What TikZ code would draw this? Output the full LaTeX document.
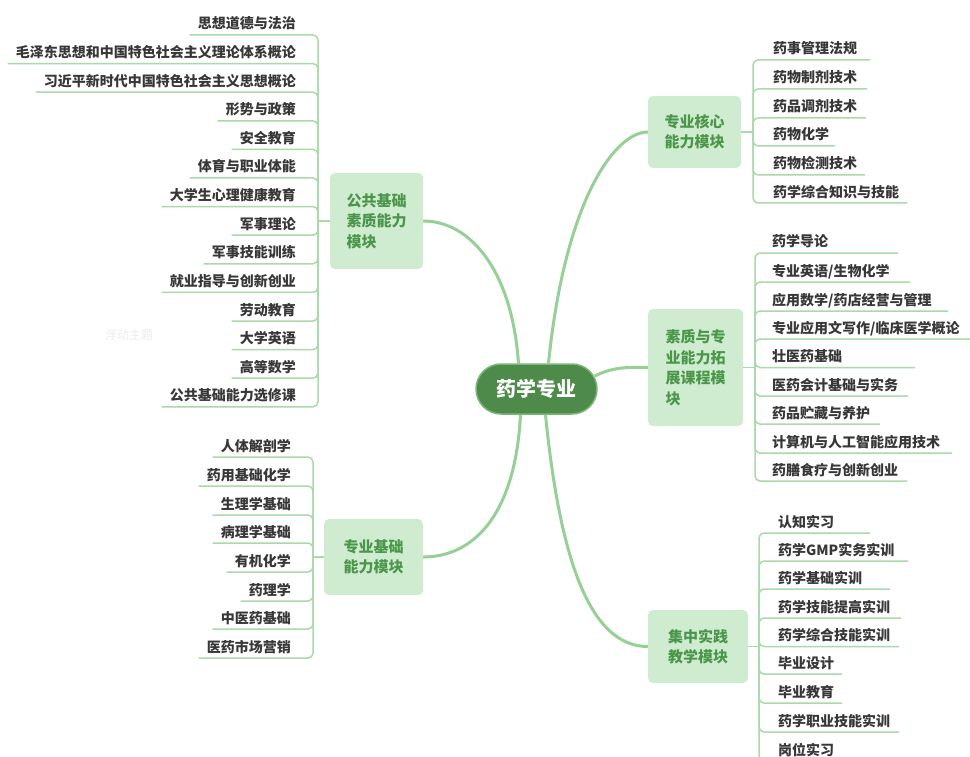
\documentclass[tikz,border=0pt]{standalone}
\usepackage{fontspec}
\newfontfamily\cjk{Noto Sans CJK SC}
\usetikzlibrary{backgrounds}
\definecolor{leafc}{RGB}{170,218,170}
\definecolor{mainc}{RGB}{150,208,150}
\definecolor{boxfill}{RGB}{208,236,208}
\definecolor{boxtext}{RGB}{74,150,74}
\definecolor{centerfill}{RGB}{78,138,74}
\definecolor{centerrim}{RGB}{125,182,120}
\definecolor{leaftext}{RGB}{55,55,55}
\begin{document}
\begin{tikzpicture}[x=1pt,y=-1pt,
  leaf/.style={inner xsep=8pt, inner ysep=3pt, font={\cjk\bfseries\fontsize{14}{16}\selectfont}, text=leaftext},
  leafline/.style={draw=leafc, line width=1.5pt, rounded corners=5pt},
  mainline/.style={draw=mainc, line width=3pt},
  modbox/.style={fill=boxfill, rounded corners=5pt, font={\cjk\bfseries\fontsize{15}{20.5}\selectfont}, text=boxtext, align=left, inner sep=0pt},
  centernode/.style={fill=centerfill, draw=centerrim, line width=1.5pt, rounded corners=25pt, minimum width=121pt, minimum height=50pt, text=white, font={\cjk\bfseries\fontsize{20}{24}\selectfont}, inner sep=0pt}
]
\useasboundingbox (0,0) rectangle (970,757);
\clip (0,0) rectangle (970,757);

% center
\node[centernode] (c) at (536.5,389) {药学专业};

% module boxes
\node[modbox, minimum width=93pt, minimum height=96pt] (b1) at (376.5,221) {公共基础\\素质能力\\模块};
\node[modbox, minimum width=99pt, minimum height=76pt] (b2) at (373.5,557) {专业基础\\能力模块};
\node[modbox, minimum width=93pt, minimum height=72pt] (b3) at (694.5,132) {专业核心\\能力模块};
\node[modbox, minimum width=95pt, minimum height=117pt] (b4) at (695.5,367.5) {素质与专\\业能力拓\\展课程模\\块};
\node[modbox, minimum width=100pt, minimum height=73pt] (b5) at (698,646.5) {集中实践\\教学模块};

% floating topic
\node[font={\cjk\fontsize{12}{14}\selectfont}, text=black!7] (float) at (129,335) {浮动主题};

% main curves
\begin{pgfonlayer}{background}
\fill[white] (0,0) rectangle (970,757);
\draw[mainline] ([xshift=-18pt]c.north) .. controls (512,270) and (470,221) .. (b1.east);
\draw[mainline] ([xshift=12pt]c.north) .. controls (565,200) and (615,132) .. (b3.west);
\draw[mainline] ([xshift=-3pt,yshift=13pt]c.east) .. controls (615,366) and (630,367.5) .. (b4.west);
\draw[mainline] ([xshift=-16pt]c.south) .. controls (515,520) and (470,557) .. (b2.east);
\draw[mainline] ([xshift=9pt]c.south) .. controls (560,560) and (590,646.5) .. (b5.west);
\end{pgfonlayer}

% left group 1
\coordinate (t1) at (318,221);
\draw[leafline] (b1.west) -- (t1);
\foreach \t/\yu [count=\i] in {思想道德与法治/35, 毛泽东思想和中国特色社会主义理论体系概论/63.6, 习近平新时代中国特色社会主义思想概论/92.2, 形势与政策/120.8, 安全教育/149.4, 体育与职业体能/178, 大学生心理健康教育/206.6, 军事理论/235.2, 军事技能训练/263.8, 就业指导与创新创业/292.4, 劳动教育/321, 大学英语/349.6, 高等数学/378.2, 公共基础能力选修课/406.8}{
  \node[leaf, anchor=base east] (pa\i) at (304,\yu-6) {\t};
  \draw[leafline] (pa\i.west |- 0,\yu) -- (318,\yu) -- (t1);
}

% left group 2
\coordinate (t2) at (313,557);
\draw[leafline] (b2.west) -- (t2);
\foreach \t/\yu [count=\i] in {人体解剖学/457, 药用基础化学/486, 生理学基础/515, 病理学基础/543, 有机化学/572, 药理学/601, 中医药基础/629, 医药市场营销/658}{
  \node[leaf, anchor=base east] (pb\i) at (299,\yu-6) {\t};
  \draw[leafline] (pb\i.west |- 0,\yu) -- (313,\yu) -- (t2);
}

% right group 1
\coordinate (t3) at (753,132);
\draw[leafline] (b3.east) -- (t3);
\foreach \t/\yu/\xe [count=\i] in {药事管理法规/60/870, 药物制剂技术/89/867, 药品调剂技术/118/866, 药物化学/146/835, 药物检测技术/175/865, 药学综合知识与技能/203/907}{
  \node[leaf, anchor=base west] (pc\i) at (765,\yu-6) {\t};
  \draw[leafline] (t3) -- (753,\yu) -- (pc\i.west |- 0,\yu) -- (\xe,\yu);
}

% right group 2
\coordinate (t4) at (755,367.5);
\draw[leafline] (b4.east) -- (t4);
\foreach \t/\yu/\xe [count=\i] in {药学导论/253/898, {专业英语/生物化学}/282/910, {应用数学/药店经营与管理}/311/948, {专业应用文写作/临床医学概论}/339/972, 壮医药基础/367.5/915, 医药会计基础与实务/396/908, 药品贮藏与养护/424/880, 计算机与人工智能应用技术/453/952, 药膳食疗与创新创业/481/907}{
  \node[leaf, anchor=base west] (pd\i) at (764,\yu-6) {\t};
  \draw[leafline] (t4) -- (755,\yu) -- (pd\i.west |- 0,\yu) -- (\xe,\yu);
}

% right group 3
\coordinate (t5) at (759,646.5);
\draw[leafline] (b5.east) -- (t5);
\foreach \t/\yu/\xe [count=\i] in {认知实习/533/870, 药学GMP实务实训/561/908, 药学基础实训/589/890, 药学技能提高实训/618/901, 药学综合技能实训/646.5/899, 毕业设计/674/842, 毕业教育/703/842, 药学职业技能实训/732/899, 岗位实习/761/880}{
  \node[leaf, anchor=base west] (pe\i) at (770,\yu-6) {\t};
  \draw[leafline] (t5) -- (759,\yu) -- (pe\i.west |- 0,\yu) -- (\xe,\yu);
}
\end{tikzpicture}
\end{document}
